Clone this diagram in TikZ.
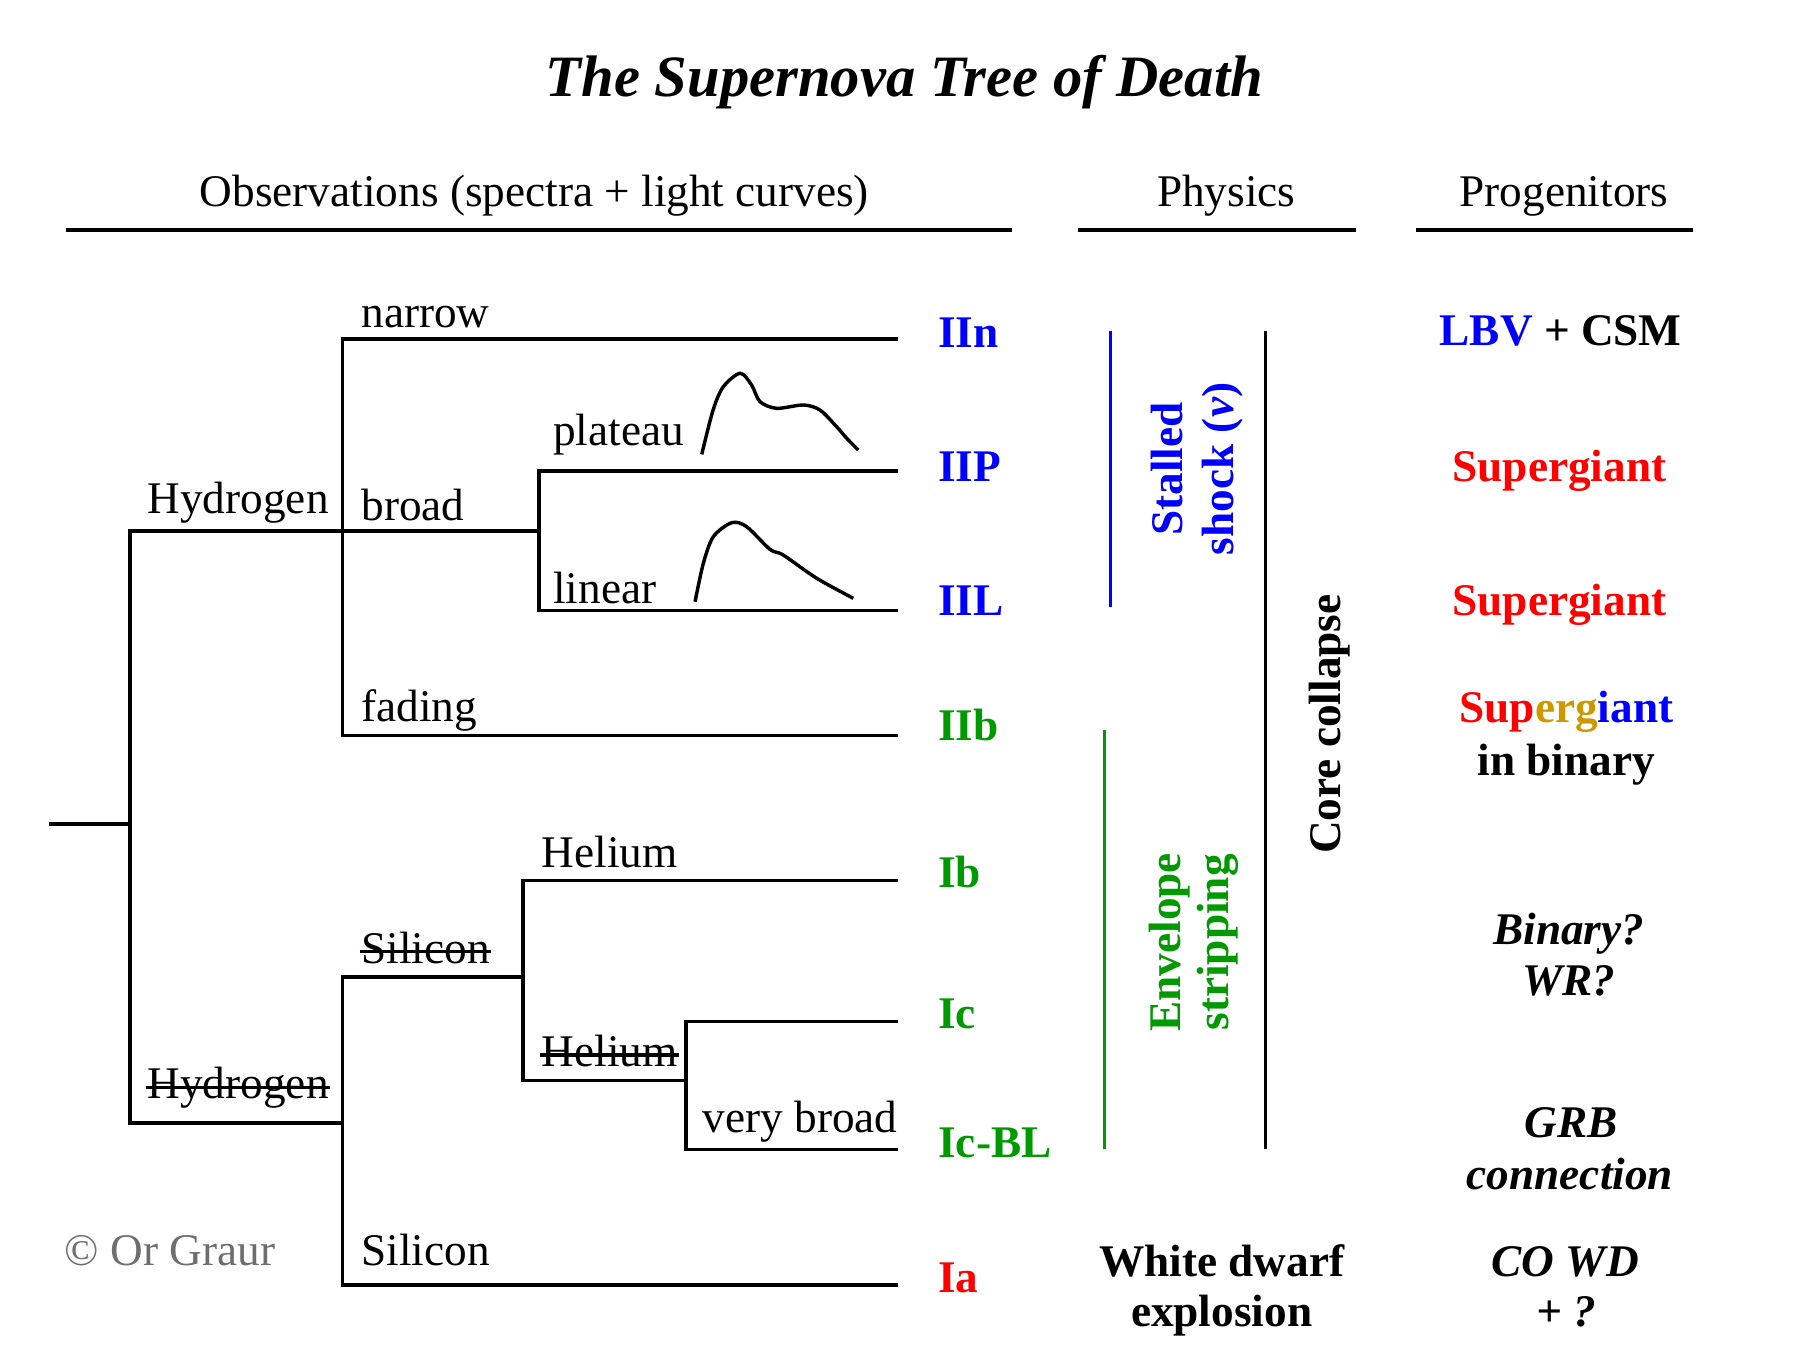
\documentclass[tikz,border=0pt]{standalone}
\usepackage{fontspec}
\setmainfont{Liberation Serif}
\usepackage{xcolor}
\usepackage{tikz}

\definecolor{snblue}{RGB}{0,0,255}
\definecolor{snred}{RGB}{255,0,0}
\definecolor{sngreen}{RGB}{0,153,0}
\definecolor{sngold}{RGB}{204,153,0}
\definecolor{sngray}{RGB}{110,110,110}

\begin{document}
\begin{tikzpicture}[x=0.01cm,y=-0.01cm,line width=0.85pt,
		every node/.style={inner sep=0pt,font=\fontsize{11.2}{12}\selectfont},
		branch/.style={anchor=base west},
		struck/.style={branch,append after command={([yshift=2.8pt]\tikzlastnode.base west)
				edge[line width=0.85pt] ([yshift=2.8pt]\tikzlastnode.base east)}},
		sntype/.style={anchor=base west,font=\fontsize{11.2}{12}\selectfont\bfseries},
		prog/.style={anchor=base,font=\fontsize{11.2}{12}\selectfont\bfseries},
		progq/.style={anchor=base,font=\fontsize{11.2}{12}\selectfont\bfseries\itshape},
		phys/.style={anchor=base,rotate=90,font=\fontsize{11.2}{12}\selectfont\bfseries}]
		
		\useasboundingbox (0,0) rectangle (1568,1175);
		
		\node[anchor=base,font=\fontsize{14.5}{16}\selectfont\bfseries\itshape] (title) at (787,84) {The Supernova Tree of Death};
		
		\node[anchor=base] (hobs) at (465,180) {Observations (spectra + light curves)};
		\node[anchor=base] (hphys) at (1067,180) {Physics};
		\node[anchor=base] (hprog) at (1361,180) {Progenitors};
		\draw (57,200) -- (881,200);
		\draw (938,200) -- (1180,200);
		\draw (1232,200) -- (1473,200);
		
		% branch points and line ends
		\coordinate (root) at (43,717);
		\coordinate (j0) at (113,717);
		\coordinate (jH) at (298,462);
		\coordinate (jbroad) at (469,462);
		\coordinate (jnoH) at (298,977);
		\coordinate (jnoSi) at (455,850);
		\coordinate (jnoHe) at (597,940);
		\coordinate (eIIn) at (781,295);
		\coordinate (eIIP) at (781,410);
		\coordinate (eIIL) at (781,531);
		\coordinate (eIIb) at (781,640);
		\coordinate (eIb) at (781,766);
		\coordinate (eIc) at (781,889);
		\coordinate (eIcBL) at (781,1000);
		\coordinate (eIa) at (781,1118);
		
		\draw (root) -- (j0);
		\draw (j0) |- (jH);
		\draw (j0) |- (jnoH);
		\draw (jH) |- (eIIn);
		\draw (jH) -- (jbroad);
		\draw (jbroad) |- (eIIP);
		\draw (jbroad) |- (eIIL);
		\draw (jH) |- (eIIb);
		\draw (jnoH) |- (jnoSi);
		\draw (jnoH) |- (eIa);
		\draw (jnoSi) |- (eIb);
		\draw (jnoSi) |- (jnoHe);
		\draw (jnoHe) |- (eIc);
		\draw (jnoHe) |- (eIcBL);
		
		\node[branch] (lHyd) at (127,447) {Hydrogen};
		\node[branch] (lnarrow) at (313,285) {narrow};
		\node[branch] (lbroad) at (313,453) {broad};
		\node[branch] (lplateau) at (480,388) {plateau};
		\node[branch] (llinear) at (480,525) {linear};
		\node[branch] (lfading) at (313,628) {fading};
		\node[struck] (lnoHyd) at (127,956) {Hydrogen};
		\node[struck] (lnoSi) at (313,838) {Silicon};
		\node[branch] (lHe) at (470,755) {Helium};
		\node[struck] (lnoHe) at (470,928) {Helium};
		\node[branch] (lvbroad) at (610,985) {very broad};
		\node[branch] (lSi) at (313,1101) {Silicon};
		
		% light curves
		\draw plot[smooth] coordinates {(610.6,395.4) (620.5,356.8) (629.4,336.5)
			(644,324.8) (654,335) (661.3,349.5) (675.8,355.3) (699,352.4)
			(713.5,356.8) (728,371.3) (736.8,381.4) (746.9,391.6)};
		\draw plot[smooth] coordinates {(604.8,523.6) (612,490.2) (620.7,467)
			(636.7,454.8) (649.7,458.3) (670,478) (681.6,483) (710.7,503.2)
			(742.5,520.6)};
		
		\node[sntype,snblue] (IIn) at (815,302) {IIn};
		\node[sntype,snblue] (IIP) at (815,419) {IIP};
		\node[sntype,snblue] (IIL) at (815,536) {IIL};
		\node[sntype,sngreen] (IIb) at (815,644) {IIb};
		\node[sntype,sngreen] (Ib) at (815,772) {Ib};
		\node[sntype,sngreen] (Ic) at (815,895) {Ic};
		\node[sntype,sngreen] (IcBL) at (815,1007) {Ic-BL};
		\node[sntype,snred] (Ia) at (815,1125) {Ia};
		
		% physics
		\draw[snblue,line width=0.7pt] (966,288) -- (966,528);
		\draw[sngreen,line width=0.7pt] (961,635) -- (961,1000);
		\draw (1101,288) -- (1101,1000);
		\node[phys,snblue] (stall) at (1029,408) {Stalled};
		\node[phys,snblue] (shock) at (1073,408) {shock ({\itshape ν})};
		\node[phys,sngreen] (env) at (1027,820) {Envelope};
		\node[phys,sngreen] (strip) at (1069,820) {stripping};
		\node[phys] (core) at (1166,630) {Core collapse};
		\node[prog] (wd) at (1063,1111) {White dwarf};
		\node[prog] (wdx) at (1063,1154) {explosion};
		
		% progenitors
		\node[prog] (pIIn) at (1358,301) {\textcolor{snblue}{LBV} + CSM};
		\node[prog,snred] (pIIP) at (1357,419) {Supergiant};
		\node[prog,snred] (pIIL) at (1357,536) {Supergiant};
		\node[prog] (pIIb) at (1363,629) {\textcolor{snred}{Sup}\textcolor{sngold}{erg}\textcolor{snblue}{iant}};
		\node[prog] (pIIbx) at (1363,675) {in binary};
		\node[progq] (pIb) at (1365,822) {Binary?};
		\node[progq] (pIbx) at (1365,866) {WR?};
		\node[progq] (pIc) at (1367,990) {GRB};
		\node[progq] (pIcx) at (1366,1035) {connection};
		\node[progq] (pIa) at (1362,1111) {CO WD};
		\node[progq] (pIax) at (1363,1154) {+ ?};
		
		\node[branch,text=sngray] (copy) at (55,1101) {© Or Graur};
		
	\end{tikzpicture}
\end{document}
